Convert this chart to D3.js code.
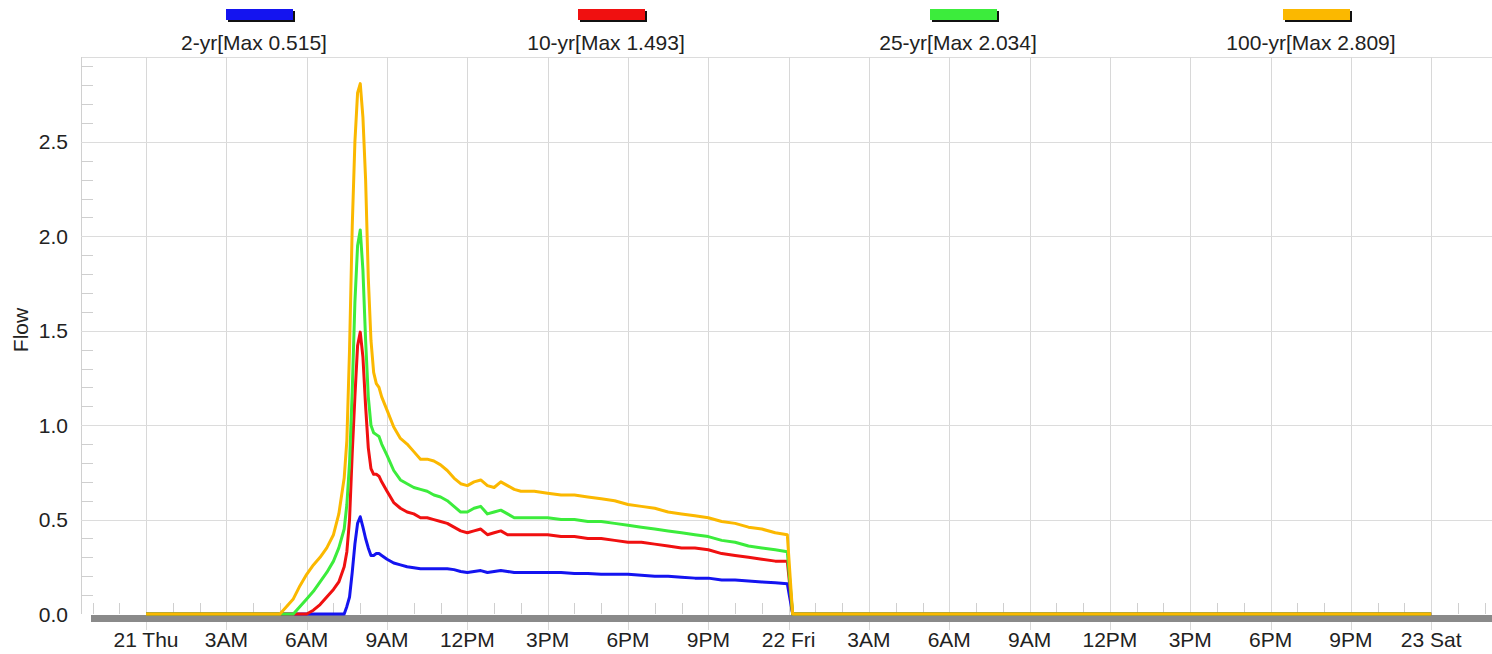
<!DOCTYPE html>
<html><head><meta charset="utf-8">
<script src="https://cdn.jsdelivr.net/npm/d3@7"></script>
<style>
html,body{margin:0;padding:0;background:#fff;}
svg text{font-family:"Liberation Sans",Arial,sans-serif;fill:#222;}
</style></head>
<body><svg id="chart" width="1492" height="654"></svg>
<script>
// ---- data (hours since 21 Thu 00:00) ----
const hours = [0,5.0,5.5,5.75,6.0,6.25,6.5,6.75,7.0,7.2,7.4,7.5,7.6,7.7,7.8,7.9,8.0,8.1,8.2,8.3,8.4,8.5,8.6,8.7,8.8,9.0,9.25,9.5,9.75,10.0,10.25,10.5,10.75,11.0,11.25,11.5,11.75,12.0,12.25,12.5,12.75,13.0,13.25,13.5,13.75,14.0,14.5,15.0,15.5,16.0,16.5,17.0,17.5,18.0,18.5,19.0,19.5,20.0,20.5,21.0,21.5,22.0,22.5,23.0,23.5,23.95,24.15,48];
const flow2yr = [0,0,0,0,0,0,0,0,0,0,0,0.04,0.09,0.22,0.37,0.48,0.515,0.46,0.40,0.35,0.31,0.31,0.32,0.32,0.31,0.29,0.27,0.26,0.25,0.245,0.24,0.24,0.24,0.24,0.24,0.235,0.225,0.22,0.225,0.23,0.22,0.225,0.23,0.225,0.22,0.22,0.22,0.22,0.22,0.215,0.215,0.21,0.21,0.21,0.205,0.20,0.20,0.195,0.19,0.19,0.18,0.18,0.175,0.17,0.165,0.16,0,0];
const flow10yr = [0,0,0,0,0,0.02,0.05,0.09,0.13,0.17,0.25,0.33,0.50,0.85,1.15,1.42,1.493,1.36,1.10,0.88,0.77,0.74,0.74,0.73,0.70,0.65,0.59,0.56,0.54,0.53,0.51,0.51,0.50,0.49,0.48,0.46,0.44,0.43,0.44,0.45,0.42,0.43,0.44,0.42,0.42,0.42,0.42,0.42,0.41,0.41,0.40,0.40,0.39,0.38,0.38,0.37,0.36,0.35,0.35,0.34,0.32,0.31,0.30,0.29,0.28,0.28,0,0];
const flow25yr = [0,0,0,0.04,0.08,0.12,0.17,0.22,0.28,0.35,0.45,0.58,0.80,1.18,1.65,1.95,2.034,1.82,1.45,1.15,1.00,0.96,0.95,0.94,0.90,0.84,0.76,0.71,0.69,0.67,0.66,0.65,0.63,0.62,0.60,0.57,0.54,0.54,0.56,0.57,0.53,0.54,0.55,0.53,0.51,0.51,0.51,0.51,0.50,0.50,0.49,0.49,0.48,0.47,0.46,0.45,0.44,0.43,0.42,0.41,0.39,0.38,0.36,0.35,0.34,0.33,0,0];
const flow100yr = [0,0,0.08,0.15,0.21,0.26,0.30,0.35,0.42,0.53,0.72,0.92,1.40,2.05,2.50,2.76,2.809,2.63,2.30,1.78,1.45,1.28,1.22,1.20,1.15,1.08,0.99,0.93,0.90,0.86,0.82,0.82,0.81,0.79,0.76,0.72,0.69,0.68,0.70,0.71,0.68,0.67,0.70,0.68,0.66,0.65,0.65,0.64,0.63,0.63,0.62,0.61,0.60,0.58,0.57,0.56,0.54,0.53,0.52,0.51,0.49,0.48,0.46,0.45,0.43,0.42,0,0];

const seriesNames = ["2-yr[Max 0.515]","10-yr[Max 1.493]","25-yr[Max 2.034]","100-yr[Max 2.809]"];
const seriesColors = ["#1414f0","#f01010","#3cec3c","#fbb800"];
const seriesValues = [flow2yr, flow10yr, flow25yr, flow100yr];

const xTickHours = [0,3,6,9,12,15,18,21,24,27,30,33,36,39,42,45,48];
const xTickLabels = ["21 Thu","3AM","6AM","9AM","12PM","3PM","6PM","9PM","22 Fri","3AM","6AM","9AM","12PM","3PM","6PM","9PM","23 Sat"];
const yTicks = [0,0.5,1.0,1.5,2.0,2.5];
const yLabel = "Flow";

// ---- layout ----
const svg = d3.select("#chart");
const L = 81, R = 1492, T = 57, B = 614;
const x = d3.scaleLinear().domain([-2.43, 50.27]).range([L, R]);
const y = d3.scaleLinear().domain([0, 2.95]).range([B, T]);
const FS = 21;

// grid
const g = svg.append("g");
g.append("line").attr("x1",L).attr("x2",R).attr("y1",T+0.5).attr("y2",T+0.5).attr("stroke","#dcdcdc");
g.append("line").attr("x1",L+0.5).attr("x2",L+0.5).attr("y1",T).attr("y2",B).attr("stroke","#d0d0d0");
g.selectAll(".vg").data(xTickHours).join("line")
  .attr("x1",d=>Math.round(x(d))+0.5).attr("x2",d=>Math.round(x(d))+0.5)
  .attr("y1",T).attr("y2",B+16).attr("stroke","#d8d8d8");
g.selectAll(".hg").data(yTicks.filter(d=>d>0)).join("line")
  .attr("x1",L).attr("x2",R).attr("y1",d=>Math.round(y(d))+0.5).attr("y2",d=>Math.round(y(d))+0.5)
  .attr("stroke","#dcdcdc");
// y minor ticks
const yMinor = d3.range(0.1, 2.95, 0.1).filter(v=>Math.abs(v*2-Math.round(v*2))>0.01);
g.selectAll(".ym").data(yMinor).join("line")
  .attr("x1",L).attr("x2",L+12).attr("y1",d=>Math.round(y(d))+0.5).attr("y2",d=>Math.round(y(d))+0.5)
  .attr("stroke","#cfcfcf");
// x minor ticks (hourly)
const xMinor = d3.range(-2, 51, 1).filter(h=>h%3!==0);
g.selectAll(".xm").data(xMinor).join("line")
  .attr("x1",d=>Math.round(x(d))+0.5).attr("x2",d=>Math.round(x(d))+0.5)
  .attr("y1",B-11).attr("y2",B).attr("stroke","#cfcfcf");

// x baseline band
g.append("rect").attr("x",91).attr("y",B+1).attr("width",R-91).attr("height",7).attr("fill","#8a8a8a");

// y axis labels
svg.selectAll(".yl").data(yTicks).join("text")
  .attr("x",68).attr("y",d=>y(d)+7.5).attr("text-anchor","end")
  .attr("font-size",FS).text(d=>d.toFixed(1));
svg.append("text").attr("transform","translate(28,330) rotate(-90)")
  .attr("text-anchor","middle").attr("font-size",FS).text(yLabel);

// x labels
svg.selectAll(".xl").data(xTickHours).join("text")
  .attr("x",d=>x(d)).attr("y",647).attr("text-anchor","middle")
  .attr("font-size",FS).text((d,i)=>xTickLabels[i]);

// lines
const line = d3.line().x(d=>x(d[0])).y(d=>y(d[1]));
seriesValues.forEach((vals,i)=>{
  svg.append("path").datum(hours.map((h,j)=>[h,vals[j]]))
    .attr("d",line).attr("fill","none").attr("stroke",seriesColors[i])
    .attr("stroke-width",3).attr("stroke-linejoin","round");
});

// legend
const legendX = [260, 612, 964, 1317];
seriesNames.forEach((n,i)=>{
  const cx = legendX[i];
  svg.append("rect").attr("x",cx-32).attr("y",11).attr("width",67).attr("height",11).attr("fill","#111");
  svg.append("rect").attr("x",cx-34).attr("y",9).attr("width",67).attr("height",11).attr("fill",seriesColors[i]);
  svg.append("text").attr("x",cx-6).attr("y",50).attr("text-anchor","middle").attr("font-size",FS).text(n);
});
</script></body></html>
